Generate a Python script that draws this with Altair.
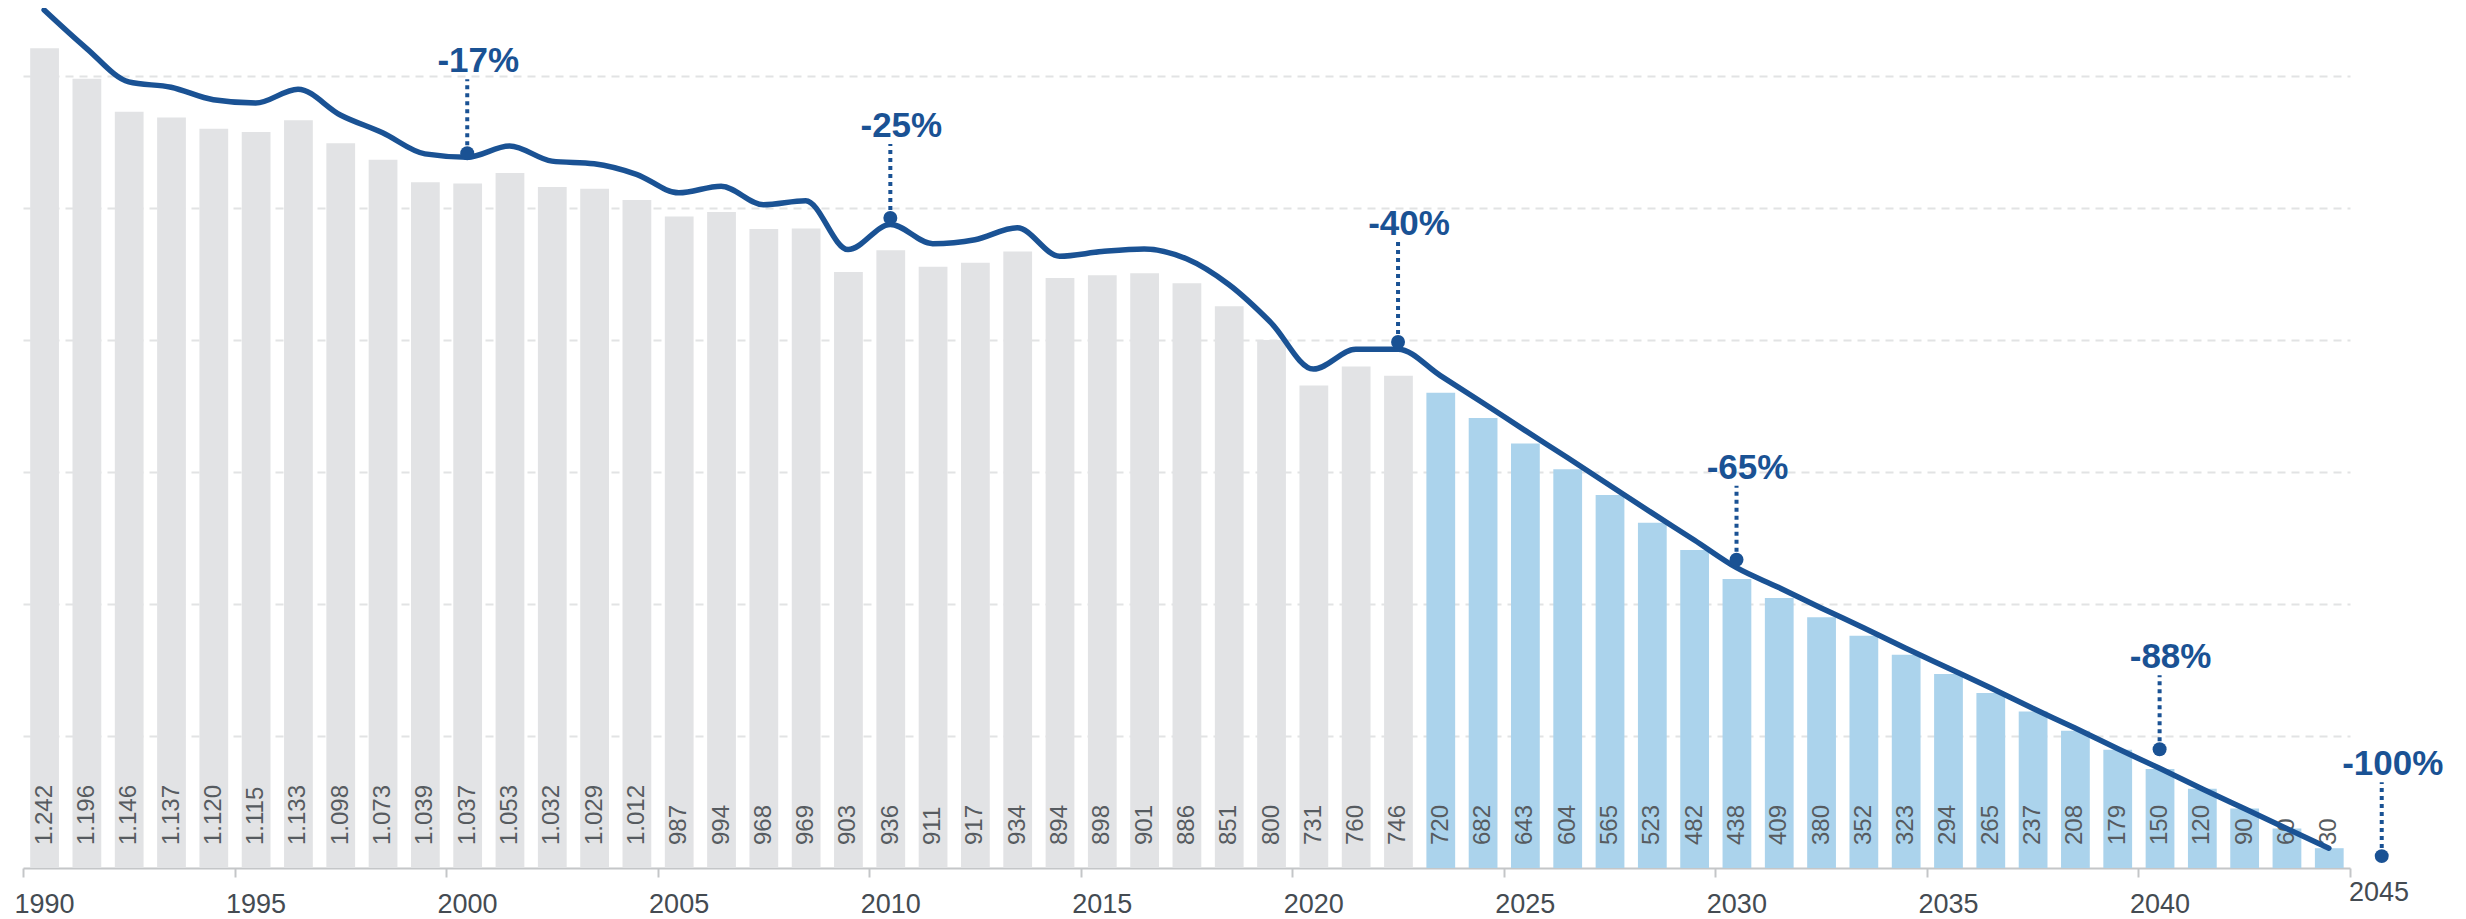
import altair as alt
import pandas as pd

# ---------------- data ----------------
years = list(range(1990, 2045))
bar_values = [1242, 1196, 1146, 1137, 1120, 1115, 1133, 1098, 1073, 1039,
              1037, 1053, 1032, 1029, 1012, 987, 994, 968, 969, 903,
              936, 911, 917, 934, 894, 898, 901, 886, 851, 800,
              731, 760, 746, 720, 682, 643, 604, 565, 523, 482,
              438, 409, 380, 352, 323, 294, 265, 237, 208, 179,
              150, 120, 90, 60, 30]
line_values = [1300, 1242, 1191, 1183, 1164, 1159, 1180, 1141, 1114, 1082,
               1077, 1094, 1071, 1067, 1051, 1023, 1033, 1005, 1011, 937,
               975, 946, 952, 970, 927, 934, 938, 923, 884, 826,
               756, 786, 786, 746, 705, 663, 622, 580, 538, 497,
               455, 425, 394, 364, 333, 303, 273, 242, 212, 181,
               151, 120, 90, 60, 30]
forecast_from = 2023

tick_years = [1990, 1995, 2000, 2005, 2010, 2015, 2020, 2025, 2030, 2035, 2040, 2045]
grid_values = [200, 400, 600, 800, 1000, 1200]

ann_years = [2000.5, 2010.5, 2022.5, 2030.5, 2040.5, 2045.75]
ann_values = [1083, 985, 797, 467, 180, 18]
ann_labels = ["-17%", "-25%", "-40%", "-65%", "-88%", "-100%"]

# ---------------- tables ----------------
bars = pd.DataFrame({
    "year": years,
    "value": bar_values,
    "label": [f"{v:,}".replace(",", ".") for v in bar_values],
})
line = pd.DataFrame({"year": years, "value": line_values})
ann = pd.DataFrame({"year": ann_years, "value": ann_values, "text": ann_labels})
last_tick = pd.DataFrame({"year": [tick_years[-1]], "label": [str(tick_years[-1])]})

BLUE = "#1a5294"
GREY_BAR = "#e2e3e5"
BLUE_BAR = "#abd3ec"
FONT = "Liberation Sans"
AXIS_TEXT = "#444b52"

xscale = alt.Scale(domain=[1990, 2045], nice=False, zero=False)
yscale = alt.Scale(domain=[0, 1300], nice=False, zero=True)

x_axis = alt.Axis(values=tick_years, format="d", title=None, grid=False,
                  labelOffset=21, labelFlush=False, labelOverlap=False,
                  labelExpr="datum.value == 2045 ? '' : datum.label",
                  labelFontSize=27, labelColor=AXIS_TEXT, labelFont=FONT,
                  labelPadding=14, tickSize=9, tickWidth=2, tickColor="#c4c6c8",
                  domainColor="#c4c6c8", domainWidth=2)
y_axis = alt.Axis(values=grid_values, title=None, labels=False, ticks=False,
                  domain=False, grid=True, gridDash=[8, 6], gridColor="#e2e3e4",
                  gridWidth=2)

base_bars = alt.Chart(bars).transform_calculate(
    x0="datum.year + 0.17", x1="datum.year + 0.85", xc="datum.year + 0.51", zero="0"
)

bar_layer = base_bars.mark_rect().encode(
    x=alt.X("x0:Q", scale=xscale, axis=x_axis),
    x2="x1:Q",
    y=alt.Y("value:Q", scale=yscale, axis=y_axis),
    y2="zero:Q",
    color=alt.condition(alt.datum.year >= forecast_from, alt.value(BLUE_BAR), alt.value(GREY_BAR)),
)

bar_text = base_bars.mark_text(angle=270, align="left", baseline="middle", dx=23,
                               fontSize=24, font=FONT, color="#565b60").encode(
    x=alt.X("xc:Q", scale=xscale, axis=x_axis),
    y=alt.Y("zero:Q", scale=yscale, axis=y_axis),
    text="label:N",
)

line_layer = alt.Chart(line).transform_calculate(xm="datum.year + 0.5").mark_line(
    color=BLUE, strokeWidth=5.5, interpolate="monotone", strokeCap="round"
).encode(
    x=alt.X("xm:Q", scale=xscale, axis=x_axis),
    y=alt.Y("value:Q", scale=yscale, axis=y_axis),
)

ann_base = alt.Chart(ann).transform_calculate(
    top="datum.value + (datum.text == '-40%' ? 152 : 112)"
)

ann_rule = ann_base.mark_rule(color=BLUE, strokeWidth=4, strokeDash=[4, 4]).encode(
    x=alt.X("year:Q", scale=xscale, axis=x_axis),
    y=alt.Y("value:Q", scale=yscale, axis=y_axis),
    y2="top:Q",
)

ann_dot = ann_base.mark_circle(color=BLUE, opacity=1, size=195).encode(
    x=alt.X("year:Q", scale=xscale, axis=x_axis),
    y=alt.Y("value:Q", scale=yscale, axis=y_axis),
)

ann_text = ann_base.mark_text(align="center", baseline="alphabetic", dx=11, dy=-7,
                              fontSize=35, fontWeight="bold", font=FONT, color=BLUE).encode(
    x=alt.X("year:Q", scale=xscale, axis=x_axis),
    y=alt.Y("top:Q", scale=yscale, axis=y_axis),
    text="text:N",
)

last_label = alt.Chart(last_tick).transform_calculate(zero="0").mark_text(
    align="center", baseline="top", dx=29, dy=12, fontSize=27, font=FONT, color=AXIS_TEXT
).encode(
    x=alt.X("year:Q", scale=xscale, axis=x_axis),
    y=alt.Y("zero:Q", scale=yscale, axis=y_axis),
    text="label:N",
)

chart = alt.layer(
    bar_layer, bar_text, line_layer, ann_rule, ann_dot, ann_text, last_label
).properties(
    width=2327, height=858,
    padding={"left": 15, "top": 2, "right": 100, "bottom": 50},
    autosize=alt.AutoSizeParams(type="none"),
).configure_view(stroke=None)

chart.save("out.html", embed_options={"renderer": "svg", "actions": False})
